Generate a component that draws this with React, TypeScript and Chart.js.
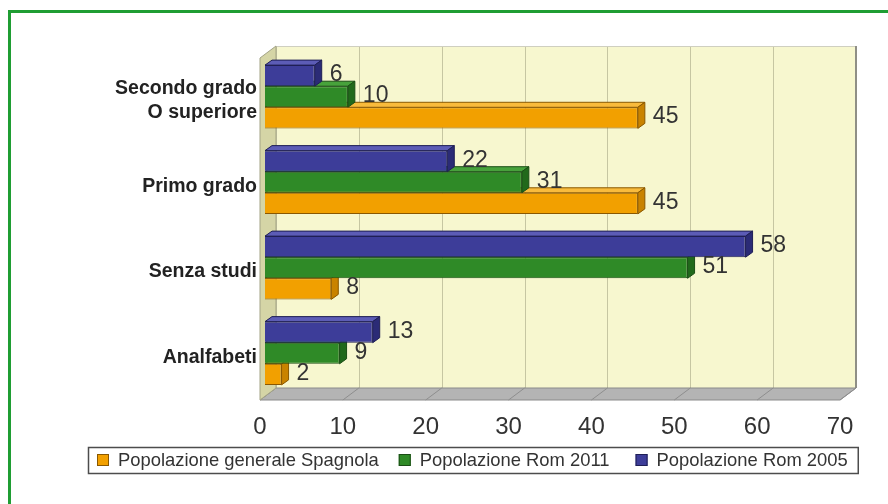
import React, { useEffect, useRef } from "react";
import { Chart, registerables } from "chart.js";

Chart.register(...registerables);

// ---------- data ----------
const categories: (string | string[])[] = [
  ["Secondo grado", "O superiore"],
  "Primo grado",
  "Senza studi",
  "Analfabeti",
];
const seriesNames = [
  "Popolazione Rom 2005",
  "Popolazione Rom 2011",
  "Popolazione generale Spagnola",
];
const rom2005 = [6, 22, 58, 13];
const rom2011 = [10, 31, 51, 9];
const spagnola = [45, 45, 8, 2];
const xTicks = [0, 10, 20, 30, 40, 50, 60, 70];

// ---------- style ----------
const FONT = '"Liberation Sans", Arial, Helvetica, sans-serif';
const DEPTH_X = 16;
const DEPTH_Y = 12;
const BAR_SHIFT_X = 5;
const BAR_SHIFT_Y = -4;
const BAR_DX = 7;
const BAR_DY = 5;
const LEGEND_GAPS = [20, 26];

const seriesStyle = [
  { front: "#3d3d99", top: "#5c5cb6", side: "#2b2b76", edge: "#1f1f55" },
  { front: "#2f8a27", top: "#47a23b", side: "#21691b", edge: "#1a4d15" },
  { front: "#f2a000", top: "#f9bb3c", side: "#c98300", edge: "#8a5800" },
];

function poly(ctx: CanvasRenderingContext2D, pts: number[][], fill: string, stroke?: string) {
  ctx.beginPath();
  ctx.moveTo(pts[0][0], pts[0][1]);
  for (let i = 1; i < pts.length; i++) ctx.lineTo(pts[i][0], pts[i][1]);
  ctx.closePath();
  ctx.fillStyle = fill;
  ctx.fill();
  if (stroke) {
    ctx.strokeStyle = stroke;
    ctx.lineWidth = 1;
    ctx.stroke();
  }
}

const threeDPlugin = {
  id: "threeD",
  beforeDraw(chart: any) {
    const ctx: CanvasRenderingContext2D = chart.ctx;
    ctx.save();
    ctx.fillStyle = "#ffffff";
    ctx.fillRect(0, 0, chart.width, chart.height);
    ctx.fillStyle = "#1f9d33";
    ctx.fillRect(8, 10, chart.width - 8, 3);
    ctx.fillRect(8, 10, 3, chart.height - 10);
    ctx.restore();
  },
  beforeDatasetsDraw(chart: any) {
    const ctx: CanvasRenderingContext2D = chart.ctx;
    const a = chart.chartArea;
    const x = chart.scales.x;
    const bl = a.left + DEPTH_X;
    const br = a.right + DEPTH_X;
    const bt = a.top - DEPTH_Y;
    const bb = a.bottom - DEPTH_Y;

    ctx.save();
    // back wall
    ctx.fillStyle = "#f7f7cf";
    ctx.fillRect(bl, bt, br - bl, bb - bt);
    ctx.strokeStyle = "#c6c6a2";
    ctx.lineWidth = 1;
    for (const v of xTicks) {
      const px = Math.round(x.getPixelForValue(v) + DEPTH_X) + 0.5;
      ctx.beginPath();
      ctx.moveTo(px, bt);
      ctx.lineTo(px, bb);
      ctx.stroke();
    }
    ctx.strokeStyle = "#cfcfc0";
    ctx.beginPath();
    ctx.moveTo(bl, bt + 0.5);
    ctx.lineTo(br, bt + 0.5);
    ctx.stroke();
    ctx.strokeStyle = "#8f8f86";
    ctx.lineWidth = 2;
    ctx.beginPath();
    ctx.moveTo(br, bt);
    ctx.lineTo(br, bb);
    ctx.stroke();

    // floor
    poly(
      ctx,
      [
        [a.left, a.bottom],
        [bl, bb],
        [br, bb],
        [a.right, a.bottom],
      ],
      "#b4b4b4",
      "#8a8a8a"
    );
    ctx.strokeStyle = "#8e8e8e";
    ctx.lineWidth = 1;
    for (const v of xTicks) {
      const px = x.getPixelForValue(v);
      ctx.beginPath();
      ctx.moveTo(px, a.bottom);
      ctx.lineTo(px + DEPTH_X, bb);
      ctx.stroke();
    }

    // left wall
    poly(
      ctx,
      [
        [a.left, a.top],
        [bl, bt],
        [bl, bb],
        [a.left, a.bottom],
      ],
      "#d5d5a6",
      "#a3a385"
    );
    ctx.restore();

    // bars drawn at mid depth
    ctx.save();
    ctx.translate(BAR_SHIFT_X, BAR_SHIFT_Y);
    for (let di = chart.data.datasets.length - 1; di >= 0; di--) {
      const meta = chart.getDatasetMeta(di);
      const st = seriesStyle[di];
      meta.data.forEach((bar: any) => {
        const p = bar.getProps(["x", "y", "base", "height"], true);
        const top = p.y - p.height / 2;
        const bottom = p.y + p.height / 2;
        poly(
          ctx,
          [
            [p.base, top],
            [p.base + BAR_DX, top - BAR_DY],
            [p.x + BAR_DX, top - BAR_DY],
            [p.x, top],
          ],
          st.top,
          st.edge
        );
        poly(
          ctx,
          [
            [p.x, top],
            [p.x + BAR_DX, top - BAR_DY],
            [p.x + BAR_DX, bottom - BAR_DY],
            [p.x, bottom],
          ],
          st.side,
          st.edge
        );
      });
    }
  },
  afterDatasetsDraw(chart: any) {
    const ctx: CanvasRenderingContext2D = chart.ctx;
    ctx.restore();
    ctx.save();
    ctx.font = `23px ${FONT}`;
    ctx.fillStyle = "#333333";
    ctx.textAlign = "left";
    ctx.textBaseline = "middle";
    chart.data.datasets.forEach((ds: any, di: number) => {
      const meta = chart.getDatasetMeta(di);
      meta.data.forEach((bar: any, i: number) => {
        const p = bar.getProps(["x", "y"], true);
        ctx.fillText(String(ds.data[i]), p.x + BAR_SHIFT_X + 15, p.y + BAR_SHIFT_Y - 1);
      });
    });
    ctx.restore();
  },
  afterDraw(chart: any) {
    // boxed legend below the x axis (series listed in reverse dataset order)
    const ctx: CanvasRenderingContext2D = chart.ctx;
    const a = chart.chartArea;
    const ds = chart.data.datasets.slice().reverse();
    const startX = 97;
    const cy = a.bottom + 60;
    const box = 12;
    ctx.save();
    ctx.font = `18.4px ${FONT}`;
    ctx.textBaseline = "middle";
    ctx.textAlign = "left";
    let cx = startX;
    let textEnd = startX;
    ds.forEach((d: any, i: number) => {
      ctx.fillStyle = d.backgroundColor;
      ctx.fillRect(cx, cy - box / 2, box, box);
      ctx.strokeStyle = d.borderColor;
      ctx.lineWidth = 1;
      ctx.strokeRect(cx + 0.5, cy - box / 2 + 0.5, box - 1, box - 1);
      ctx.fillStyle = "#333333";
      const tx = cx + box + 9;
      ctx.fillText(d.label, tx, cy + 1);
      textEnd = tx + ctx.measureText(d.label).width;
      cx = textEnd + (LEGEND_GAPS[i] || 0);
    });
    const right = textEnd + 10;
    ctx.strokeStyle = "#4d4d4d";
    ctx.lineWidth = 1.5;
    ctx.strokeRect(startX - 9 + 0.5, cy - 13 + 0.5, right - (startX - 9), 26);
    ctx.restore();
  },
};

export default function App() {
  const ref = useRef<HTMLCanvasElement | null>(null);

  useEffect(() => {
    if (!ref.current) return;
    const values = [rom2005, rom2011, spagnola];
    const chart = new Chart(ref.current, {
      type: "bar",
      data: {
        labels: categories as any,
        datasets: values.map((d, i) => ({
          label: seriesNames[i],
          data: d,
          backgroundColor: seriesStyle[i].front,
          borderColor: seriesStyle[i].edge,
          borderWidth: 1,
          categoryPercentage: 0.74,
          barPercentage: 1.0,
        })),
      },
      options: {
        indexAxis: "y",
        responsive: false,
        animation: false,
        layout: { padding: { left: 0, right: 48, top: 58, bottom: 64 } },
        scales: {
          x: {
            min: 0,
            max: 70,
            grid: { display: false, drawTicks: false },
            border: { display: false },
            ticks: {
              stepSize: 10,
              padding: 13,
              color: "#333333",
              font: { family: FONT, size: 24 },
            },
            afterFit: (s: any) => {
              s.height = 40;
            },
          },
          y: {
            grid: { display: false, drawTicks: false },
            border: { display: false },
            ticks: {
              padding: 3,
              color: "#222222",
              font: { family: FONT, size: 19.5, weight: "bold" },
            },
            afterFit: (s: any) => {
              s.width = 260;
            },
          },
        },
        plugins: {
          tooltip: { enabled: false },
          legend: { display: false },
        },
      } as any,
      plugins: [threeDPlugin],
    });
    return () => chart.destroy();
  }, []);

  return (
    <div style={{ position: "fixed", left: 0, top: 0, width: 888, height: 504, background: "#fff" }}>
      <canvas ref={ref} width={888} height={504} style={{ display: "block" }} />
    </div>
  );
}
